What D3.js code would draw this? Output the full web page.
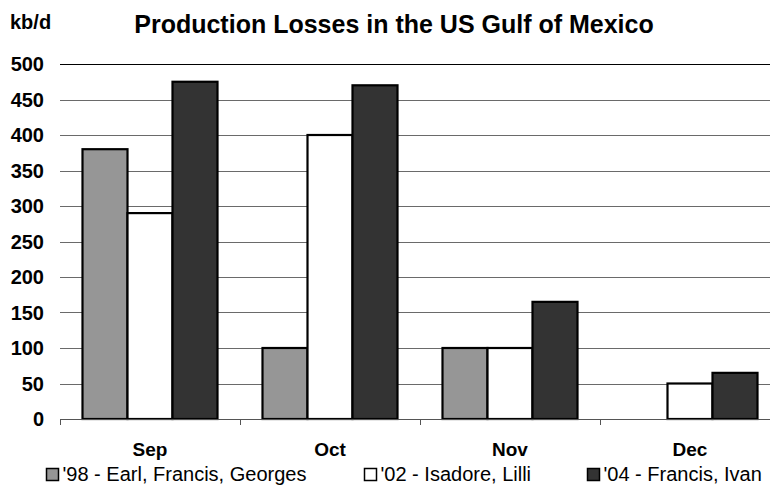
<!DOCTYPE html>
<html>
<head>
<meta charset="utf-8">
<script src="https://cdn.jsdelivr.net/npm/d3@7"></script>
<style>
  html, body { margin: 0; padding: 0; background: #fff; }
  svg { display: block; font-family: "Liberation Sans", Arial, sans-serif; }
</style>
</head>
<body>
<svg id="chart" width="770" height="486"></svg>
<script>
// Monthly production losses (kb/d) by hurricane season
const months = ["Sep", "Oct", "Nov", "Dec"];
const seriesNames = ["'98 - Earl, Francis, Georges", "'02 - Isadore, Lilli", "'04 - Francis, Ivan"];
const losses98 = [380, 100, 100, null];
const losses02 = [290, 400, 100, 50];
const losses04 = [475, 470, 165, 65];
const yTicks = [0, 50, 100, 150, 200, 250, 300, 350, 400, 450, 500];
const seriesColors = ["#969696", "#ffffff", "#333333"];

const seriesValues = [losses98, losses02, losses04];

const svg = d3.select("#chart");
const W = 770, H = 486;
// plot area runs a little past the right edge of the page
const x0 = 60, x1 = 780;
const yTop = 64, yBot = 419;

const x = d3.scaleBand().domain(months).range([x0, x1]).paddingInner(0).paddingOuter(0);
const inner = d3.scaleBand().domain(d3.range(3)).range([0, x.bandwidth()]).paddingInner(0).paddingOuter(0.5);
const y = d3.scaleLinear().domain([0, 500]).range([yBot, yTop]);

// gridlines
svg.append("g").selectAll("line").data(yTicks.filter(d => d > 0)).join("line")
  .attr("x1", x0).attr("x2", x1)
  .attr("y1", d => Math.round(y(d)) + 0.5).attr("y2", d => Math.round(y(d)) + 0.5)
  .attr("stroke", d => d === 500 ? "#000" : "#6a6a6a").attr("stroke-width", 1);

// y axis labels
svg.append("g").selectAll("text").data(yTicks).join("text")
  .attr("x", 44).attr("y", d => y(d) + 7)
  .attr("text-anchor", "end")
  .attr("font-size", 20).attr("font-weight", "bold")
  .text(d => d);

// bars
const groups = svg.append("g").selectAll("g").data(months).join("g")
  .attr("transform", d => `translate(${x(d)},0)`);
groups.selectAll("rect")
  .data((m, i) => seriesValues.map((s, k) => ({ k, v: s[i] })).filter(d => d.v != null && d.v > 0))
  .join("rect")
  .attr("x", d => inner(d.k))
  .attr("width", inner.bandwidth())
  .attr("y", d => y(d.v))
  .attr("height", d => yBot - y(d.v))
  .attr("fill", d => seriesColors[d.k])
  .attr("stroke", "#000").attr("stroke-width", 2.2);

// x axis baseline and category ticks
svg.append("line").attr("x1", x0).attr("x2", x1)
  .attr("y1", yBot + 0.5).attr("y2", yBot + 0.5).attr("stroke", "#555").attr("stroke-width", 1);
svg.append("g").selectAll("line").data(months).join("line")
  .attr("x1", d => x(d) + 0.5).attr("x2", d => x(d) + 0.5)
  .attr("y1", yBot).attr("y2", yBot + 6).attr("stroke", "#555");

// category labels
svg.append("g").selectAll("text").data(months).join("text")
  .attr("x", d => x(d) + x.bandwidth() / 2).attr("y", 456)
  .attr("text-anchor", "middle")
  .attr("font-size", 19).attr("font-weight", "bold")
  .text(d => d);

// title and unit
svg.append("text").attr("x", 394).attr("y", 33).attr("text-anchor", "middle")
  .attr("font-size", 25).attr("font-weight", "bold")
  .text("Production Losses in the US Gulf of Mexico");
svg.append("text").attr("x", 10).attr("y", 29)
  .attr("font-size", 20).attr("font-weight", "bold").text("kb/d");

// legend
const legendX = [46, 364, 587];
const lg = svg.append("g").selectAll("g").data(seriesNames).join("g")
  .attr("transform", (d, i) => `translate(${legendX[i]},468)`);
lg.append("rect").attr("x", 0.5).attr("y", 0.5).attr("width", 12).attr("height", 12)
  .attr("fill", (d, i) => seriesColors[i]).attr("stroke", "#000").attr("stroke-width", 1.5);
lg.append("text").attr("x", 16.5).attr("y", 13)
  .attr("font-size", 20).text(d => d);
</script>
</body>
</html>
